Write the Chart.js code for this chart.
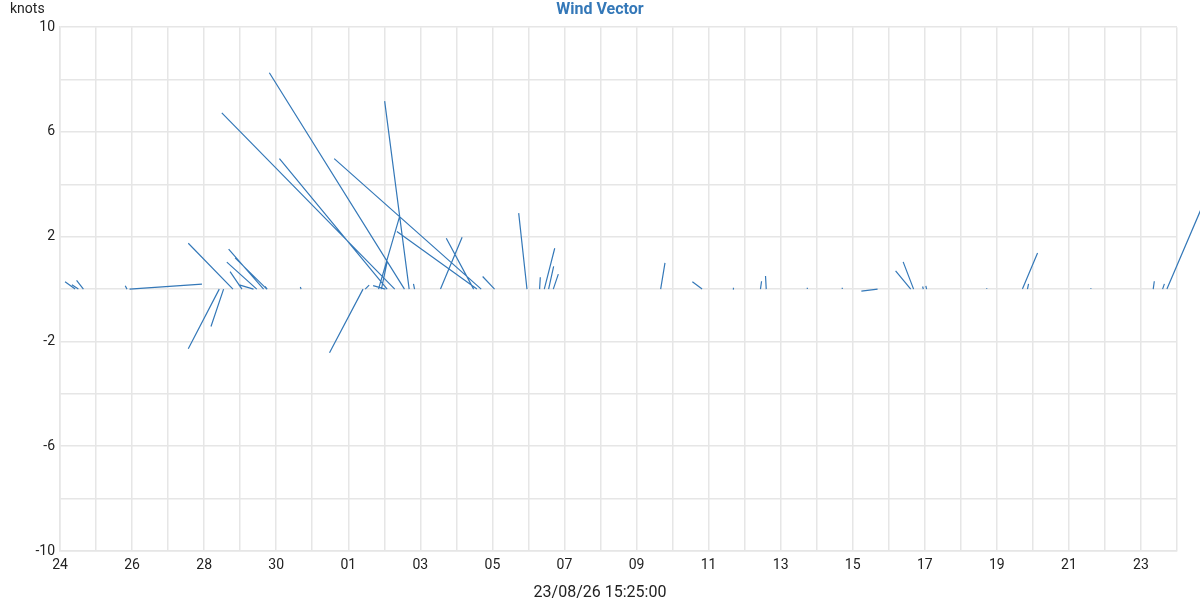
<!DOCTYPE html>
<html>
<head>
<meta charset="utf-8">
<title>Wind Vector</title>
<script src="https://cdn.jsdelivr.net/npm/chart.js@4.4.0/dist/chart.umd.min.js"></script>
<style>
html,body{margin:0;padding:0;background:#fff;}
#wrap{width:1200px;height:600px;}
</style>
</head>
<body>
<div id="wrap"><canvas id="windChart"></canvas></div>
<script>
// x is in days counted from 24 Jul 00:00, one vector = base on the zero line -> tip
var baseDay = [0.42, 0.51, 0.65, 1.86, 1.93, 4.80, 4.42, 4.54, 5.65, 5.46, 5.05, 5.74, 5.37, 5.75,
    9.56, 9.29, 9.08, 11.69, 9.69, 11.57, 8.84, 8.41, 11.48, 10.56, 12.06, 12.96, 13.31, 13.44,
    13.56, 13.69, 9.84, 9.03, 8.92, 6.69, 8.47, 16.67, 17.82, 18.70, 19.44, 19.60, 20.74, 21.71,
    22.69, 23.61, 23.69, 23.96, 24.05, 25.72, 26.71, 26.85, 28.61, 30.34, 30.60, 30.72];
var tipDay = [0.14, 0.33, 0.46, 1.81, 3.94, 3.56, 3.56, 4.19, 4.68, 4.63, 4.72, 4.86, 4.95, 5.69,
    5.81, 4.49, 6.09, 7.61, 9.01, 9.35, 9.42, 7.48, 10.72, 11.16, 11.73, 12.73, 13.33, 13.73,
    13.70, 13.83, 9.81, 8.69, 9.08, 6.67, 8.58, 16.79, 17.55, 18.69, 19.47, 19.58, 20.74, 21.71,
    22.24, 23.19, 23.40, 23.94, 24.03, 25.72, 27.13, 26.88, 28.61, 30.37, 30.65, 31.90];
var tipKnots = [0.28, 0.17, 0.33, 0.13, 0.19, 1.75, -2.28, -1.43, 1.53, 1.03, 0.67, 1.19, 0.17, 0.10,
    8.26, 6.73, 4.98, 4.98, 7.18, 2.20, 2.75, -2.43, 1.94, 1.98, 0.48, 2.90, 0.45, 1.56,
    0.87, 0.57, 0.20, 0.13, 1.05, 0.08, 0.15, 1.00, 0.28, 0.05, 0.30, 0.50, 0.05, 0.05,
    -0.08, 0.70, 1.04, 0.10, 0.12, 0.03, 1.38, 0.20, 0.03, 0.30, 0.20, 3.80];

var xTickLabels = ['24', '26', '28', '30', '01', '03', '05', '07', '09', '11', '13', '15', '17', '19', '21', '23'];
var yTickLabels = [10, 6, 2, -2, -6, -10];
var dayCount = 31;
var stampText = '23/08/26 15:25:00';

var lineColor = 'rgb(52,120,184)';
var gridColor = '#e6e6e6';

Chart.defaults.font.family = 'Roboto';
Chart.defaults.font.size = 14;
Chart.defaults.color = '#222';

// each vector is its own little segment, separated by a gap point
var points = [];
for (var i = 0; i < baseDay.length; i++) {
    points.push({x: baseDay[i], y: 0});
    points.push({x: tipDay[i], y: tipKnots[i]});
    points.push({x: tipDay[i], y: null});
}

// unit on top of the y axis and the time stamp under the x axis, centred on the page
var sideTexts = {
    id: 'sideTexts',
    afterDraw: function(chart){
        var ctx = chart.ctx;
        ctx.save();
        ctx.fillStyle = '#222';
        ctx.textBaseline = 'middle';
        ctx.font = '14px Roboto';
        ctx.textAlign = 'left';
        ctx.fillText('knots', 10, 9);
        ctx.font = '16px Roboto';
        ctx.textAlign = 'center';
        ctx.fillText(stampText, chart.width / 2, 593);
        ctx.restore();
    }
};

new Chart(document.getElementById('windChart'), {
    type: 'scatter',
    data: {
        datasets: [{
            label: 'Wind Vector',
            data: points,
            showLine: true,
            spanGaps: false,
            borderColor: lineColor,
            borderWidth: 1.2,
            pointRadius: 0,
            pointHoverRadius: 0,
            clip: false
        }]
    },
    options: {
        responsive: true,
        maintainAspectRatio: false,
        animation: false,
        layout: {padding: {left: 23, right: 23, top: 0, bottom: 0}},
        plugins: {
            legend: {display: false},
            tooltip: {enabled: false},
            title: {
                display: true,
                text: 'Wind Vector',
                color: lineColor,
                font: {size: 16, weight: 'bold'},
                padding: {top: 0, bottom: 8}
            }
        },
        scales: {
            x: {
                type: 'linear',
                min: 0,
                max: dayCount,
                grid: {color: gridColor, lineWidth: 1.5, drawTicks: false},
                border: {color: gridColor, width: 1.5},
                ticks: {
                    stepSize: 1,
                    autoSkip: false,
                    maxRotation: 0,
                    padding: 6,
                    callback: function(v){
                        return (v % 2 === 0 && xTickLabels[v / 2] !== undefined) ? xTickLabels[v / 2] : '';
                    }
                },
                afterFit: function(s){ s.height = 49; }
            },
            y: {
                min: -10,
                max: 10,
                grid: {color: gridColor, lineWidth: 1.5, drawTicks: false},
                border: {color: gridColor, width: 1.5},
                ticks: {
                    stepSize: 2,
                    padding: 5,
                    callback: function(v){
                        return yTickLabels.indexOf(v) >= 0 ? String(v) : '';
                    }
                },
                afterFit: function(s){ s.width = 37; }
            }
        }
    },
    plugins: [sideTexts]
});
</script>
</body>
</html>
